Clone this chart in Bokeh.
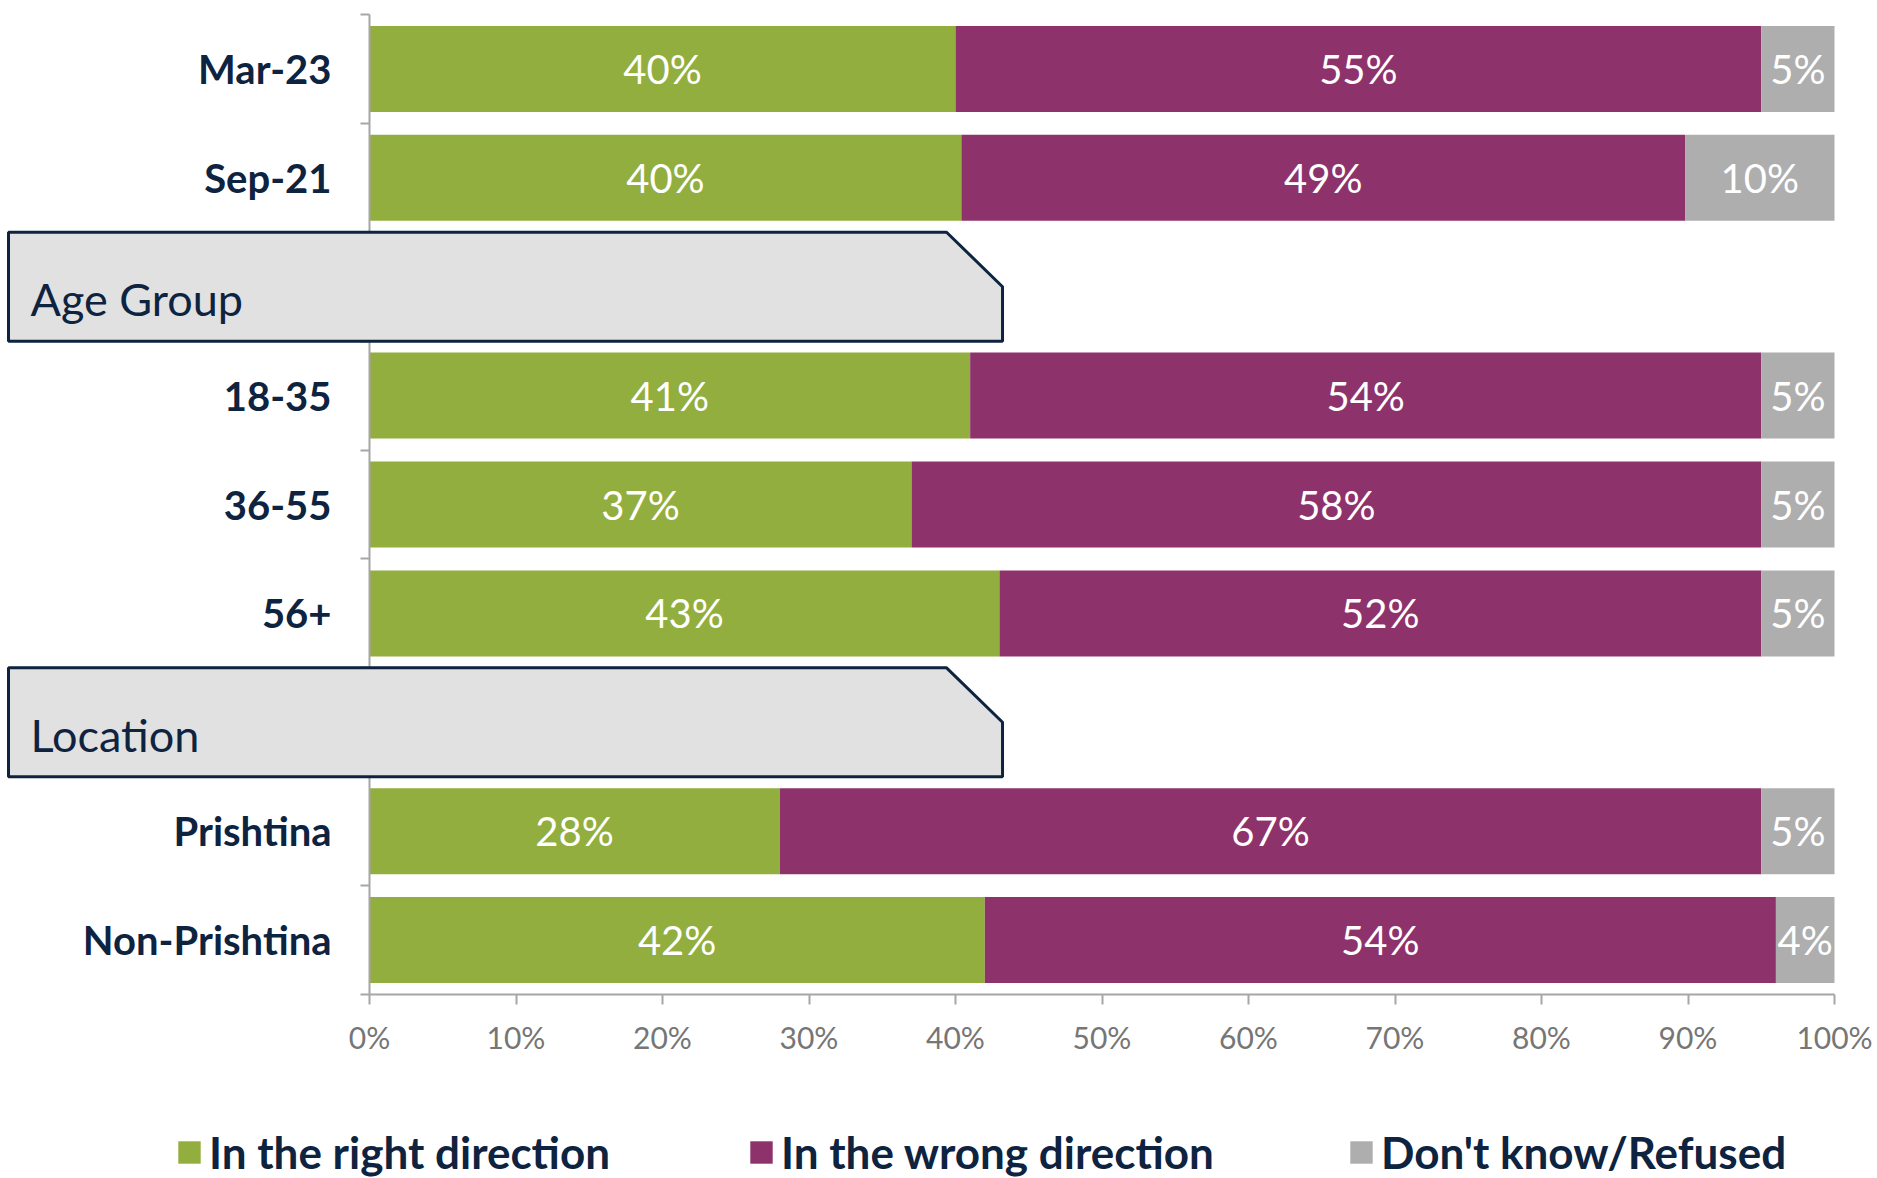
import numpy as np
from bokeh.plotting import figure
from bokeh.models import (Range1d, FixedTicker, PolyAnnotation, Label, Legend,
                          LegendItem, ColumnDataSource)
from bokeh.core.properties import value
from bokeh.embed import file_html
from bokeh.resources import INLINE

# ---------------- data ----------------
slots = ["Mar-23", "Sep-21", "Age Group", "18-35", "36-55", "56+",
         "Location", "Prishtina", "Non-Prishtina"]
section_headers = ["Age Group", "Location"]
categories = ["Mar-23", "Sep-21", "18-35", "36-55", "56+", "Prishtina", "Non-Prishtina"]
right_direction = [40, 40.4, 41, 37, 43, 28, 42]
wrong_direction = [55, 49.4, 54, 58, 52, 67, 54]
dont_know = [5, 10.2, 5, 5, 5, 5, 4]
series_names = ["In the right direction", "In the wrong direction", "Don't know/Refused"]
x_ticks = [0, 10, 20, 30, 40, 50, 60, 70, 80, 90, 100]
x_tick_labels = ["0%", "10%", "20%", "30%", "40%", "50%", "60%", "70%", "80%", "90%", "100%"]

# ---------------- style ----------------
colors = ["#92AE3E", "#8E326C", "#AEAEAE"]
navy = "#0E2340"
axis_gray = "#A6A6A6"
tick_text_gray = "#767676"
FONT = "Lato"

W, H = 1877, 1178
n_slots = len(slots)
slot_y = {name: n_slots - i - 0.5 for i, name in enumerate(slots)}

# frame covers the whole canvas; the axes sit at fixed data locations
px_per_x = (1834 - 369) / 100.0
px_per_y = (994 - 14) / n_slots
x_range = Range1d(-369 / px_per_x, 100 + (W - 1834) / px_per_x)
y_range = Range1d(-(H - 994) / px_per_y, n_slots + 14 / px_per_y)

src = ColumnDataSource(dict(
    y=[slot_y[c] for c in categories],
    right=right_direction,
    wrong=wrong_direction,
    dk=dont_know,
))

p = figure(width=W, height=H, x_range=x_range, y_range=y_range,
           output_backend="svg", toolbar_location=None,
           min_border_left=0, min_border_right=0,
           min_border_top=0, min_border_bottom=0)
p.outline_line_color = None
p.xgrid.visible = False
p.ygrid.visible = False
p.background_fill_color = "white"

renderers = p.hbar_stack(["right", "wrong", "dk"], y="y", height=0.79,
                         color=colors, line_color=None, source=src)

# value labels, centred in each segment
vals = np.array([right_direction, wrong_direction, dont_know], dtype=float)
lefts = np.vstack([np.zeros(vals.shape[1]), np.cumsum(vals, axis=0)[:-1]])
centers = lefts + vals / 2
lab_x, lab_y, lab_t = [], [], []
for s in range(vals.shape[0]):
    for j, c in enumerate(categories):
        lab_x.append(centers[s, j])
        lab_y.append(slot_y[c])
        lab_t.append(f"{round(vals[s, j])}%")
p.text(x=lab_x, y=lab_y, text=lab_t, text_color="white",
       text_font=value(FONT), text_font_size="40px",
       text_align="center", text_baseline="middle")

# y axis: labels at bar centres, tick marks at slot boundaries
yc = [slot_y[c] for c in categories]
yax = p.yaxis[0]
yax.fixed_location = 0
yax.bounds = (0, n_slots)
yax.ticker = FixedTicker(ticks=yc, minor_ticks=list(range(n_slots + 1)))
yax.major_label_overrides = {slot_y[c]: c for c in categories}
yax.major_tick_line_color = None
yax.major_tick_out = 0
yax.major_tick_in = 0
yax.minor_tick_line_color = axis_gray
yax.minor_tick_line_width = 2
yax.minor_tick_out = 9
yax.minor_tick_in = 0
yax.axis_line_color = axis_gray
yax.axis_line_width = 2
yax.major_label_standoff = 29
yax.major_label_text_font = FONT
yax.major_label_text_font_style = "bold"
yax.major_label_text_font_size = "40px"
yax.major_label_text_color = navy

# x axis
xax = p.xaxis[0]
xax.fixed_location = 0
xax.bounds = (0, 100)
xax.ticker = FixedTicker(ticks=x_ticks)
xax.major_label_overrides = dict(zip(x_ticks, x_tick_labels))
xax.axis_line_color = axis_gray
xax.axis_line_width = 2
xax.major_tick_line_color = axis_gray
xax.major_tick_line_width = 2
xax.major_tick_out = 10
xax.major_tick_in = 0
xax.minor_tick_line_color = None
xax.major_label_standoff = 14
xax.major_label_text_font = FONT
xax.major_label_text_font_size = "30px"
xax.major_label_text_color = tick_text_gray

# section header boxes (chamfered tabs)
box_left, box_chamfer, box_right = -24.64, 39.39, 43.21
for h in section_headers:
    c = slot_y[h]
    p.add_layout(PolyAnnotation(
        xs=[box_left, box_chamfer, box_right, box_right, box_left],
        ys=[c + 0.5, c + 0.5, c, c - 0.5, c - 0.5],
        fill_color="#E1E1E1", fill_alpha=1.0,
        line_color=navy, line_alpha=1.0, line_width=3))
    p.add_layout(Label(x=-23.14, y=c - 0.5 + 0.385, text=h,
                       text_font=FONT, text_font_size="45px",
                       text_color=navy, text_baseline="alphabetic"))

# legend: three items placed individually below the axis
legend_x = [175, 747, 1347]
for name, r, lx in zip(series_names, renderers, legend_x):
    leg = Legend(items=[LegendItem(label=name, renderers=[r])],
                 location=(lx, 0), orientation="horizontal",
                 glyph_width=28, glyph_height=28, label_standoff=6,
                 label_height=46,
                 label_text_font=FONT, label_text_font_style="bold",
                 label_text_font_size="44px", label_text_color=navy,
                 padding=0, margin=0, spacing=0,
                 border_line_color=None, background_fill_alpha=0)
    p.add_layout(leg)

open("out.html", "w").write(file_html(p, INLINE))
